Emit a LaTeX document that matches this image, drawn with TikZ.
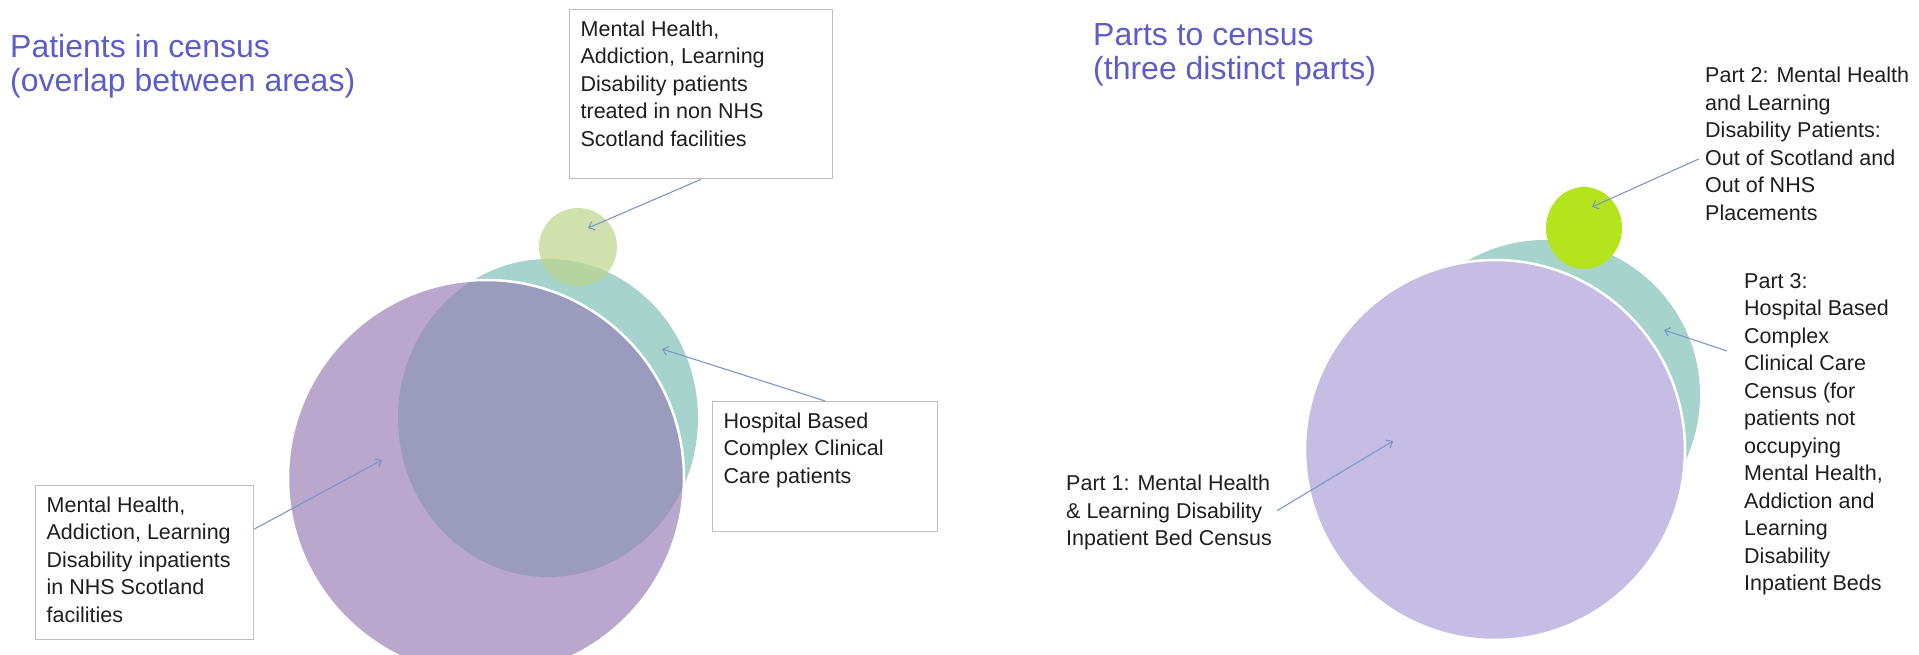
\documentclass[tikz,border=0pt]{standalone}
\usepackage{fontspec}
\setmainfont{Liberation Sans}
\usetikzlibrary{arrows.meta, positioning}

\definecolor{titleblue}{RGB}{92,92,204}
\definecolor{lilac}{RGB}{185,167,205}
\definecolor{slate}{RGB}{155,156,189}
\definecolor{seafoam}{RGB}{166,212,204}
\definecolor{sage}{RGB}{190,212,140}
\definecolor{lavender}{RGB}{197,189,228}
\definecolor{lime}{RGB}{180,228,30}
\definecolor{pointerblue}{RGB}{125,150,200}
\definecolor{boxgray}{RGB}{190,190,190}
\definecolor{inktext}{RGB}{30,30,30}

\newcommand{\labelfont}{\fontsize{21.5}{27.5}\selectfont}
\newcommand{\titlefont}{\fontsize{32}{34.5}\selectfont}
\newcommand{\notetext}[3]{\parbox[c][#2][t]{#1}{\raggedright #3}}

\begin{document}
\begin{tikzpicture}[x=1pt, y=-1pt,
    title/.style={anchor=north west, inner sep=0pt, align=left, text=titleblue, font=\titlefont},
    notebox/.style={draw=boxgray, line width=1.3pt, fill=white, anchor=north west, inner xsep=11pt, inner ysep=11pt, text=inktext, font=\labelfont},
    plainnote/.style={anchor=north west, inner sep=0pt, align=left, text=inktext, font=\labelfont},
    pointer/.style={draw=pointerblue, line width=1.1pt, -{Straight Barb[length=5pt,width=9pt]}},
    rim/.style={draw=white, line width=2.5pt}
]
\useasboundingbox (0,0) rectangle (1919,655);

% left: patients in census
\node[title] (lefttitle) at (10,34) {Patients in census\\(overlap between areas)};

\fill[seafoam] (548,418) ellipse [x radius=150, y radius=159];
\fill[lilac] (486,478) circle [radius=198];
\begin{scope}
    \clip (486,478) circle [radius=198];
    \fill[slate] (548,418) ellipse [x radius=150, y radius=159];
\end{scope}
\draw[rim] (486,478) circle [radius=198];
\fill[sage, fill opacity=0.7] (578,247) circle [radius=39];

\node[notebox] (topbox) at (569,9) {\notetext{241pt}{147pt}{Mental Health,\\ Addiction, Learning\\ Disability patients\\ treated in non NHS\\ Scotland facilities}};
\node[notebox] (hospbox) at (712,401) {\notetext{203pt}{108pt}{Hospital Based\\ Complex Clinical\\ Care patients}};
\node[notebox] (leftbox) at (35,485) {\notetext{196pt}{132pt}{Mental Health,\\ Addiction, Learning\\ Disability inpatients\\ in NHS Scotland\\ facilities}};

\coordinate (nontip) at (588,228);
\coordinate (hosptip) at (662,349);
\coordinate (inptip) at (382,460);
\draw[pointer] (topbox.south) -- (nontip);
\draw[pointer] (hospbox.north) -- (hosptip);
\draw[pointer] (leftbox.17) -- (inptip);

% right: parts to census
\node[title] (righttitle) at (1093,23) {Parts to census\\(three distinct parts)};

\fill[seafoam] (1545,395) circle [radius=155];
\fill[lavender] (1495,450) circle [radius=190];
\draw[rim] (1495,450) circle [radius=190];
\fill[lime] (1584,228) ellipse [x radius=38, y radius=41];

\node[plainnote] (part2) at (1705,67) {Part 2: Mental Health\\ and Learning\\ Disability Patients:\\ Out of Scotland and\\ Out of NHS\\ Placements};
\node[plainnote] (part3) at (1744,273) {Part 3:\\ Hospital Based\\ Complex\\ Clinical Care\\ Census (for\\ patients not\\ occupying\\ Mental Health,\\ Addiction and\\ Learning\\ Disability\\ Inpatient Beds};
\node[plainnote] (part1) at (1066,475) {Part 1: Mental Health\\ \& Learning Disability\\ Inpatient Bed Census};

\coordinate (part2tip) at (1592,207);
\coordinate (part3tip) at (1664,330);
\coordinate (part1tip) at (1393,441);
\draw[pointer] ([xshift=-6pt, yshift=-15pt]part2.west) -- (part2tip);
\draw[pointer] ([xshift=-17pt, yshift=-78pt]part3.north west) -- (part3tip);
\draw[pointer] ([xshift=5pt, yshift=2pt]part1.east) -- (part1tip);
\end{tikzpicture}
\end{document}
